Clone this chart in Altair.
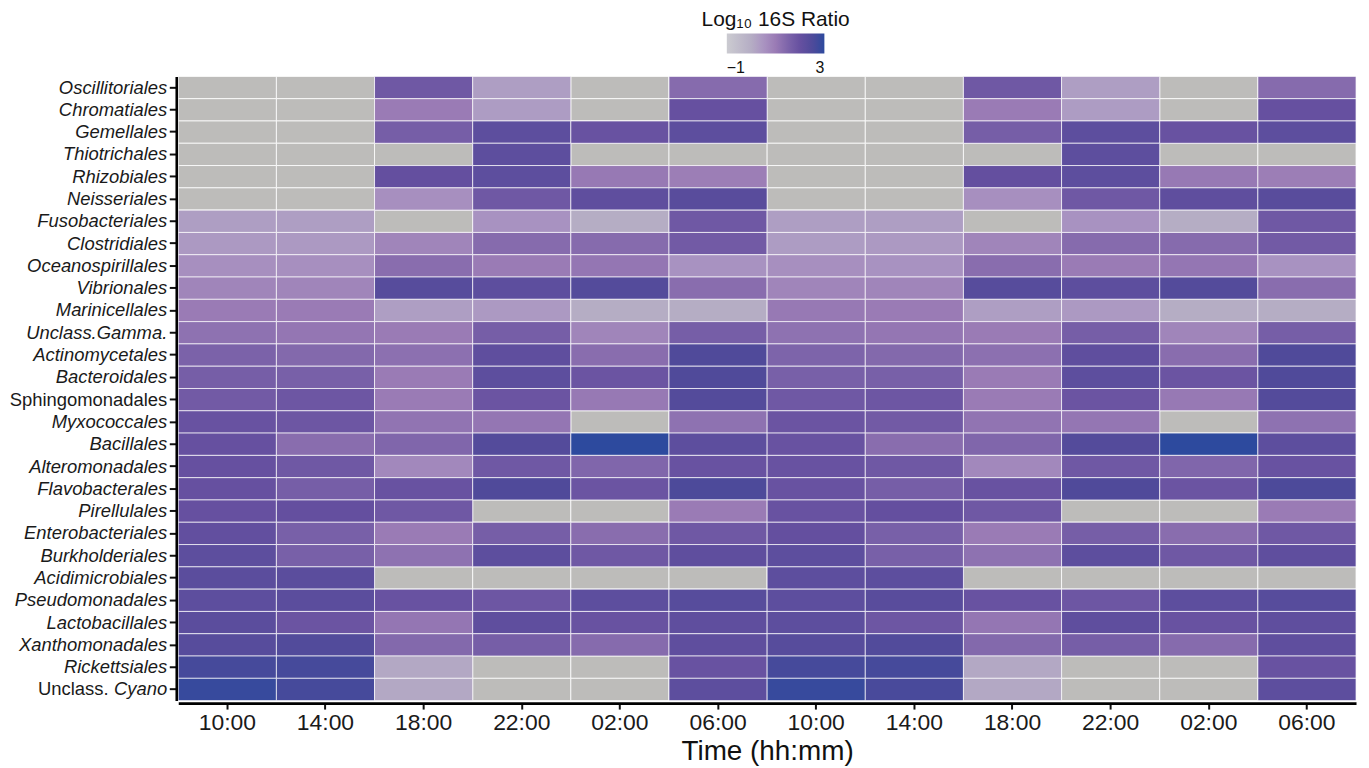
import altair as alt
import pandas as pd

# Taxonomic orders, top to bottom
ORDERS = [
    "Oscillitoriales", "Chromatiales", "Gemellales", "Thiotrichales", "Rhizobiales",
    "Neisseriales", "Fusobacteriales", "Clostridiales", "Oceanospirillales", "Vibrionales",
    "Marinicellales", "Unclass.Gamma.", "Actinomycetales", "Bacteroidales", "Sphingomonadales",
    "Myxococcales", "Bacillales", "Alteromonadales", "Flavobacterales", "Pirellulales",
    "Enterobacteriales", "Burkholderiales", "Acidimicrobiales", "Pseudomonadales",
    "Lactobacillales", "Xanthomonadales", "Rickettsiales", "Unclass. Cyano",
]

# Sampling times (two diel cycles)
TIME_LABELS = ["10:00", "14:00", "18:00", "22:00", "02:00", "06:00",
               "10:00", "14:00", "18:00", "22:00", "02:00", "06:00"]

N = None
# log10 16S ratio per time column (None = not detected, grey)
t01_1000 = [N, N, N, N, N, N, 0.3, 0.4, 0.6, 0.8, 1.0, 1.2, 1.55, 1.65, 1.75, 1.95, 2.0, 2.0,
            2.0, 2.0, 2.1, 2.2, 2.25, 2.2, 2.25, 2.35, 2.65, 2.85]
t02_1400 = [N, N, N, N, N, N, 0.3, 0.4, 0.6, 0.8, 1.0, 1.1, 1.4, 1.6, 1.85, 1.85, 1.3, 1.8,
            1.65, 2.05, 1.6, 1.6, 2.25, 2.25, 1.9, 2.45, 2.65, 2.65]
t03_1800 = [1.8, 1.0, 1.65, N, 2.05, 0.6, N, 0.8, 1.3, 2.35, 0.3, 1.0, 1.25, 1.0, 1.0, 1.15,
            1.45, 0.75, 1.95, 1.8, 1.0, 1.2, N, 1.95, 1.1, 1.4, 0.1, 0.1]
t04_2200 = [0.3, 0.35, 2.2, 2.2, 2.2, 1.8, 0.55, 1.35, 1.0, 2.2, 0.4, 1.65, 2.15, 2.2, 1.9,
            1.1, 2.4, 1.8, 2.5, N, 1.65, 2.2, N, 1.85, 2.15, 1.65, N, N]
t05_0200 = [N, N, 1.95, N, 1.05, 2.15, 0.0, 1.35, 1.1, 2.4, 0.0, 0.8, 1.3, 1.9, 1.05, N,
            3.0, 1.45, 1.9, N, 1.3, 1.8, N, 2.2, 1.95, 1.35, N, N]
t06_0600 = [1.35, 2.0, 2.2, N, 0.95, 2.3, 1.8, 1.75, 0.55, 1.3, 0.0, 1.65, 2.5, 2.5, 2.4,
            1.2, 2.2, 1.95, 2.55, 1.0, 1.8, 2.15, N, 2.35, 2.15, 2.15, 1.95, 2.2]
t07_1000 = [N, N, N, N, N, N, 0.3, 0.35, 0.6, 0.8, 1.05, 1.2, 1.5, 1.6, 1.8, 1.9, 1.95, 1.95,
            1.95, 1.95, 2.05, 2.2, 2.2, 2.2, 2.2, 2.35, 2.65, 2.85]
t08_1400 = [N, N, N, N, N, N, 0.3, 0.4, 0.55, 0.8, 1.0, 1.1, 1.4, 1.6, 1.85, 1.75, 1.3, 1.8,
            1.65, 2.05, 1.6, 1.6, 2.2, 2.3, 1.85, 2.45, 2.65, 2.6]
t09_1800 = [1.8, 1.0, 1.65, N, 2.05, 0.6, N, 0.8, 1.3, 2.35, 0.3, 1.0, 1.25, 1.0, 1.0, 1.15,
            1.45, 0.75, 1.95, 1.8, 1.0, 1.2, N, 1.95, 1.1, 1.4, 0.1, 0.1]
t10_2200 = [0.3, 0.35, 2.2, 2.2, 2.2, 1.8, 0.55, 1.35, 1.0, 2.2, 0.4, 1.65, 2.15, 2.2, 1.9,
            1.1, 2.4, 1.8, 2.5, N, 1.65, 2.2, N, 1.85, 2.15, 1.65, N, N]
t11_0200 = [N, N, 1.95, N, 1.05, 2.15, 0.0, 1.35, 1.1, 2.4, 0.0, 0.8, 1.3, 1.9, 1.05, N,
            3.0, 1.45, 1.9, N, 1.3, 1.8, N, 2.2, 1.95, 1.35, N, N]
t12_0600 = [1.35, 2.0, 2.2, N, 0.95, 2.3, 1.8, 1.75, 0.55, 1.3, 0.0, 1.65, 2.5, 2.5, 2.4,
            1.2, 2.2, 1.95, 2.55, 1.0, 1.8, 2.15, N, 2.35, 2.15, 2.15, 1.95, 2.2]

COLUMNS = [t01_1000, t02_1400, t03_1800, t04_2200, t05_0200, t06_0600,
           t07_1000, t08_1400, t09_1800, t10_2200, t11_0200, t12_0600]

records = []
for j, col in enumerate(COLUMNS):
    for i, name in enumerate(ORDERS):
        records.append({"slot": j, "order": name, "value": col[i]})
df = pd.DataFrame(records)

FONT = "Liberation Sans"
label_js = "[" + ",".join("'%s'" % t for t in TIME_LABELS) + "][datum.value]"

x_enc = alt.X(
    "slot:O",
    scale=alt.Scale(paddingInner=0, paddingOuter=0),
    axis=alt.Axis(
        title="Time (hh:mm)", titleFontSize=28, titleFont=FONT, titleFontWeight="normal",
        titleColor="#111111", titleBaseline="alphabetic", titleY=57,
        labelExpr=label_js, labelAngle=0, labelFontSize=23, labelFont=FONT,
        labelColor="#1a1a1a", labelPadding=3,
        offset=2.5, tickSize=6, tickWidth=2, tickColor="#111111",
        domainColor="#000000", domainWidth=2.6, grid=False,
    ),
)
y_enc = alt.Y(
    "order:N",
    sort=ORDERS,
    scale=alt.Scale(paddingInner=0, paddingOuter=0),
    axis=alt.Axis(
        title=None,
        labelFontSize=18.5, labelFont=FONT, labelColor="#1a1a1a",
        labelFontStyle={"condition": {"test": "datum.value == 'Sphingomonadales'",
                                      "value": "normal"}, "value": "italic"},
        labelExpr="datum.value == 'Unclass. Cyano' ? 'Cyano' : datum.value",
        labelPadding=2.5, offset=2, tickSize=7, tickWidth=2, tickColor="#111111",
        domainColor="#000000", domainWidth=2.6, grid=False,
    ),
)

base = alt.Chart(df).mark_rect(
    color="#bdbcba", stroke="#ffffff", strokeWidth=1, strokeOpacity=0.8
).encode(x=x_enc, y=y_enc)

colored = alt.Chart(df).transform_filter("isValid(datum.value)").mark_rect(
    stroke="#ffffff", strokeWidth=1, strokeOpacity=0.7
).encode(
    x=alt.X("slot:O"),
    y=alt.Y("order:N", sort=ORDERS),
    color=alt.Color(
        "value:Q",
        scale=alt.Scale(
            domain=[-1, 0, 0.5, 1, 1.5, 2, 2.5, 3],
            range=["#cbcbd1", "#b5adc4", "#aa94c2", "#9a7bb5", "#7d64aa",
                   "#6650a0", "#504a9a", "#2d4a9e"],
            interpolate="rgb",
        ),
        legend=alt.Legend(
            title="Log₁₀ 16S Ratio", titleFontSize=21, titleFont=FONT,
            titleFontWeight="normal", titleColor="#111111", titleAnchor="middle",
            titleAlign="center", titlePadding=4,
            orient="none", legendX=526, legendY=-68, direction="horizontal",
            gradientLength=98, gradientThickness=20, gradientStrokeWidth=0,
            values=[-1, 3], labelExpr="datum.value < 0 ? '−1' : '3\u00a0'",
            labelFontSize=16, labelFont=FONT, labelColor="#111111",
            labelOffset=7,
        ),
    ),
)

cyano_prefix = alt.Chart(
    pd.DataFrame({"order": ["Unclass. Cyano"], "txt": ["Unclass."]})
).mark_text(
    align="right", baseline="middle", fontSize=18.5, font=FONT,
    fontStyle="normal", color="#1a1a1a",
).encode(
    y=alt.Y("order:N", sort=ORDERS),
    x=alt.value(-70),
    text="txt:N",
)

chart = alt.layer(base, colored, cyano_prefix).properties(
    width=1183, height=627,
    autosize=alt.AutoSizeParams(type="none"),
    padding={"left": 171, "top": 67, "right": 5, "bottom": 66},
).configure_view(stroke=None)

chart.save("out.html", embed_options={"renderer": "svg", "actions": False})
